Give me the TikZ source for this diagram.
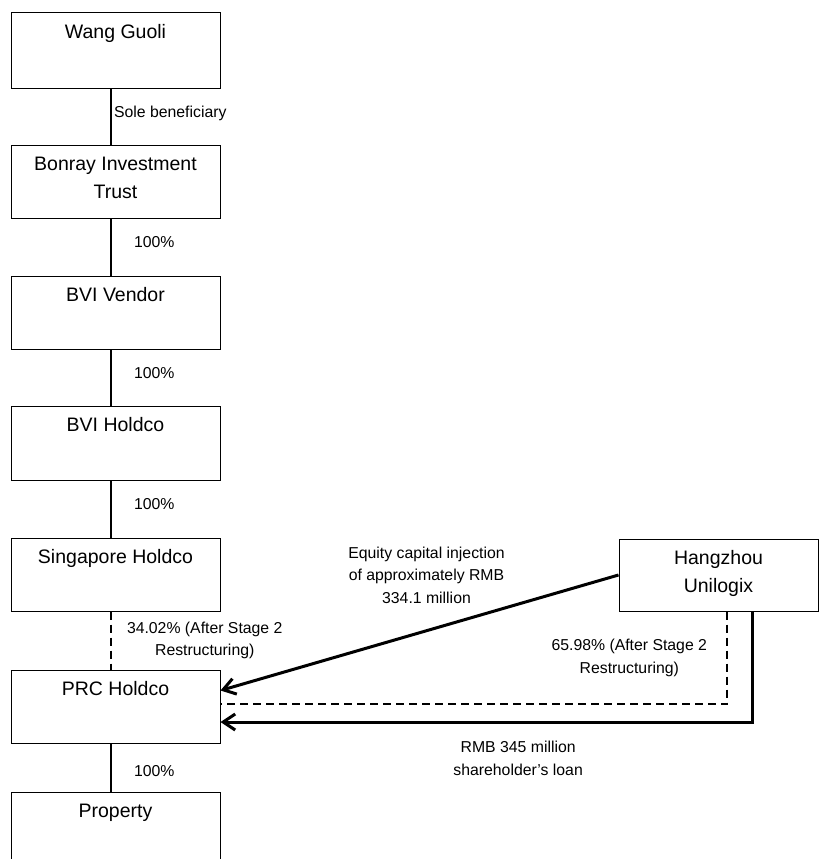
\documentclass[tikz,border=0pt]{standalone}
\usepackage{fontspec}
\setmainfont{Liberation Sans}
\usetikzlibrary{arrows.meta, positioning}
\begin{document}
\begin{tikzpicture}[x=1pt,y=-1pt]

\tikzset{entity/.style = {shape=rectangle,draw,line width=1pt,minimum width=209pt,inner sep=0pt}}
\tikzset{boxlabel/.style = {anchor=north,inner sep=0pt,yshift=-12pt,align=center,font=\fontsize{19.5}{28}\selectfont}}
\tikzset{pct/.style = {inner sep=2pt,align=center,font=\fontsize{15.8}{22.5}\selectfont}}
\tikzset{own/.style = {line width=2.2pt}}
\tikzset{share/.style = {line width=2pt,dash pattern=on 8pt off 5pt}}
\tikzset{flow/.style = {line width=3pt,-{Straight Barb[length=12pt,width=16pt]}}}
\useasboundingbox (0,0) rectangle (819,859);
%entities
\node[entity, minimum height=75pt, label={[boxlabel]north:Wang Guoli}] (wang) at (115.5,50.5) {};
\node[entity, minimum height=73pt, label={[boxlabel]north:{Bonray Investment\\Trust}}] (bonray) at (115.5,181.5) {};
\node[entity, minimum height=73pt, label={[boxlabel]north:BVI Vendor}] (vendor) at (115.5,312.5) {};
\node[entity, minimum height=74pt, label={[boxlabel]north:BVI Holdco}] (bvihold) at (115.5,443) {};
\node[entity, minimum height=73pt, label={[boxlabel]north:Singapore Holdco}] (sghold) at (115.5,574.5) {};
\node[entity, minimum height=73pt, label={[boxlabel]north:PRC Holdco}] (prc) at (115.5,706.5) {};
\node[entity, minimum height=73pt, label={[boxlabel]north:Property}] (property) at (115.5,828.5) {};
\node[entity, minimum width=199pt, minimum height=72pt, label={[boxlabel]north:{Hangzhou\\Unilogix}}] (hang) at (718.5,575) {};
%ownership
\draw[own] ([xshift=-4.5pt]wang.south) -- node[pct, right, pos=0.45] {Sole beneficiary} ([xshift=-4.5pt]bonray.north);
\draw[own] ([xshift=-4.5pt]bonray.south) -- node[pct, right=20pt, pos=0.41] {100\%} ([xshift=-4.5pt]vendor.north);
\draw[own] ([xshift=-4.5pt]vendor.south) -- node[pct, right=20pt, pos=0.42] {100\%} ([xshift=-4.5pt]bvihold.north);
\draw[own] ([xshift=-4.5pt]bvihold.south) -- node[pct, right=20pt, pos=0.41] {100\%} ([xshift=-4.5pt]sghold.north);
\draw[share] ([xshift=-4.5pt]sghold.south) -- node[pct, right=13pt] {34.02\% (After Stage 2\\Restructuring)} ([xshift=-4.5pt]prc.north);
\draw[own] ([xshift=-4.5pt]prc.south) -- node[pct, right=20pt, pos=0.57] {100\%} ([xshift=-4.5pt]property.north);
%funding
\draw[flow] (hang.west) -- node[pct, above=26pt, xshift=7pt] {Equity capital injection\\of approximately RMB\\334.1 million} ([yshift=16pt]prc.east);
\draw[share] ([xshift=8.5pt]hang.south) |- node[pct, left=17pt, pos=0.25] {65.98\% (After Stage 2\\Restructuring)} ([yshift=2.5pt]prc.east);
\draw[flow] ([xshift=33.5pt]hang.south) |- node[pct, below=16pt, pos=0.72] {RMB 345 million\\shareholder's loan} ([yshift=-15.5pt]prc.east);

\end{tikzpicture}
\end{document}
